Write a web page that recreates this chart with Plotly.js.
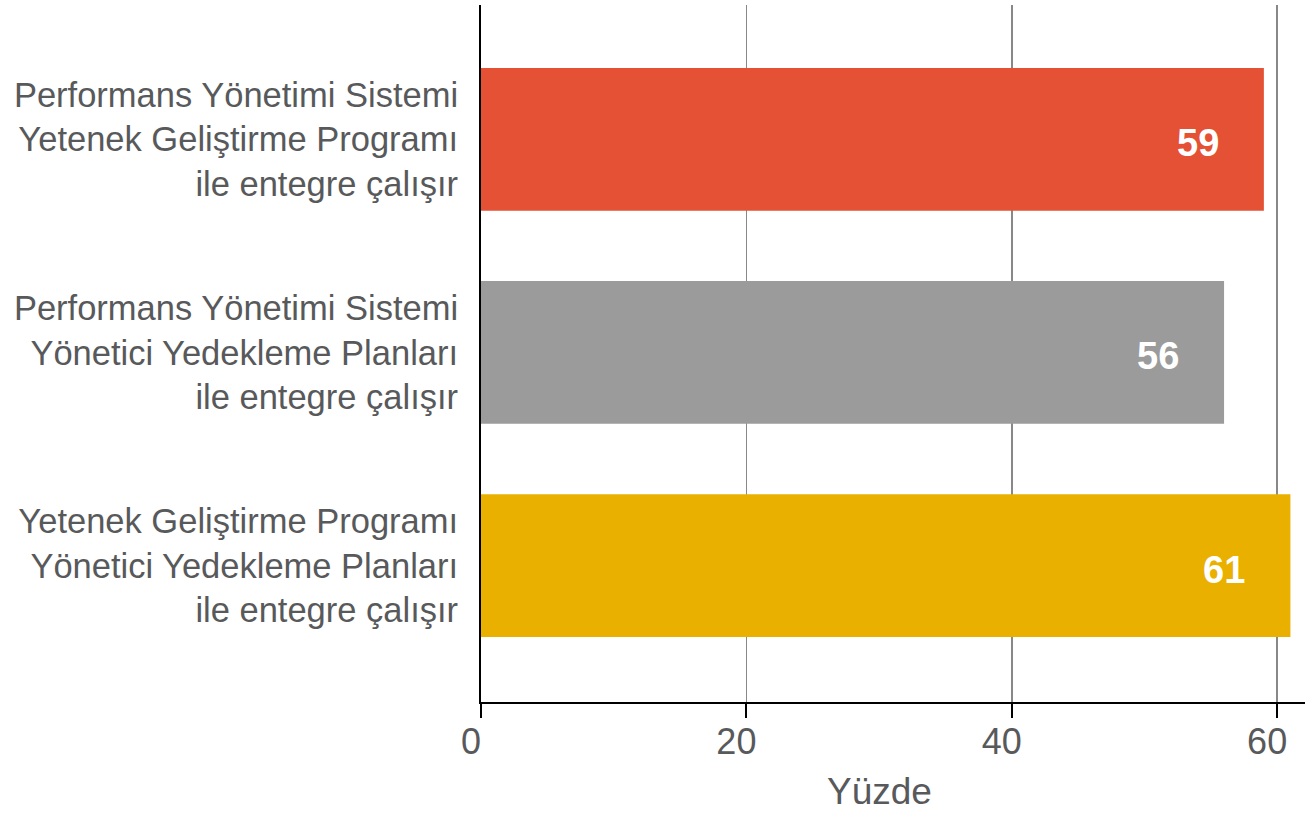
<!DOCTYPE html>
<html>
<head>
<meta charset="utf-8">
<script src="https://cdn.plot.ly/plotly-3.0.1.min.js"></script>
<style>
  html, body { margin: 0; padding: 0; background: #ffffff; }
  #chart { width: 1307px; height: 814px; }
</style>
</head>
<body>
<div id="chart"></div>
<script>
// Category labels (one per bar, top to bottom)
const categories = [
  "Performans Yönetimi Sistemi<br>Yetenek Geliştirme Programı<br>ile entegre çalışır",
  "Performans Yönetimi Sistemi<br>Yönetici Yedekleme Planları<br>ile entegre çalışır",
  "Yetenek Geliştirme Programı<br>Yönetici Yedekleme Planları<br>ile entegre çalışır"
];
// Percentages
const values = [59, 56, 61];
const barColors = ["#E45134", "#9B9B9B", "#EAB000"];
const tickValues = [0, 20, 40, 60];
const axisTitle = "Yüzde";

const font = "'Liberation Sans', Arial, sans-serif";
const textGrey = "#58595B";

const trace = {
  type: "bar",
  orientation: "h",
  x: values,
  y: categories,
  marker: { color: barColors, line: { width: 0 } },
  hoverinfo: "skip"
};

// Value labels sit inside each bar, near its end
const valueLabels = values.map((v, i) => ({
  x: v,
  y: categories[i],
  xref: "x",
  yref: "y",
  text: String(v),
  showarrow: false,
  xanchor: "center",
  yanchor: "middle",
  xshift: -66,
  yshift: -4,
  font: { family: font, size: 38, color: "#ffffff", weight: "bold" }
}));

const layout = {
  width: 1307,
  height: 814,
  margin: { l: 481, r: 2, t: 5, b: 112 },
  paper_bgcolor: "#ffffff",
  plot_bgcolor: "#ffffff",
  showlegend: false,
  bargap: 0.33,
  font: { family: font, color: textGrey },
  xaxis: {
    range: [0, 62.1],
    tickvals: tickValues,
    ticktext: tickValues.map(String),
    ticks: "outside",
    ticklen: 14,
    tickwidth: 2,
    tickcolor: "#000000",
    ticklabelshift: -10,
    ticklabelstandoff: -7,
    tickfont: { family: font, size: 36, color: textGrey },
    showgrid: true,
    gridcolor: "#888888",
    gridwidth: 1.5,
    zeroline: false,
    showline: true,
    linecolor: "#000000",
    linewidth: 2,
    fixedrange: true
  },
  yaxis: {
    autorange: false,
    range: [2.64, -0.63],
    type: "category",
    ticks: "",
    ticklabelstandoff: 14,
    tickfont: { family: font, size: 34.5, color: textGrey },
    showgrid: false,
    zeroline: false,
    showline: true,
    linecolor: "#000000",
    linewidth: 2,
    fixedrange: true
  },
  annotations: valueLabels.concat([{
    text: axisTitle,
    xref: "paper",
    yref: "paper",
    x: 0.484,
    y: -0.128,
    xanchor: "center",
    yanchor: "middle",
    showarrow: false,
    borderpad: 0,
    font: { family: font, size: 37, color: textGrey }
  }])
};

Plotly.newPlot("chart", [trace], layout, { staticPlot: true, displayModeBar: false });
</script>
</body>
</html>
